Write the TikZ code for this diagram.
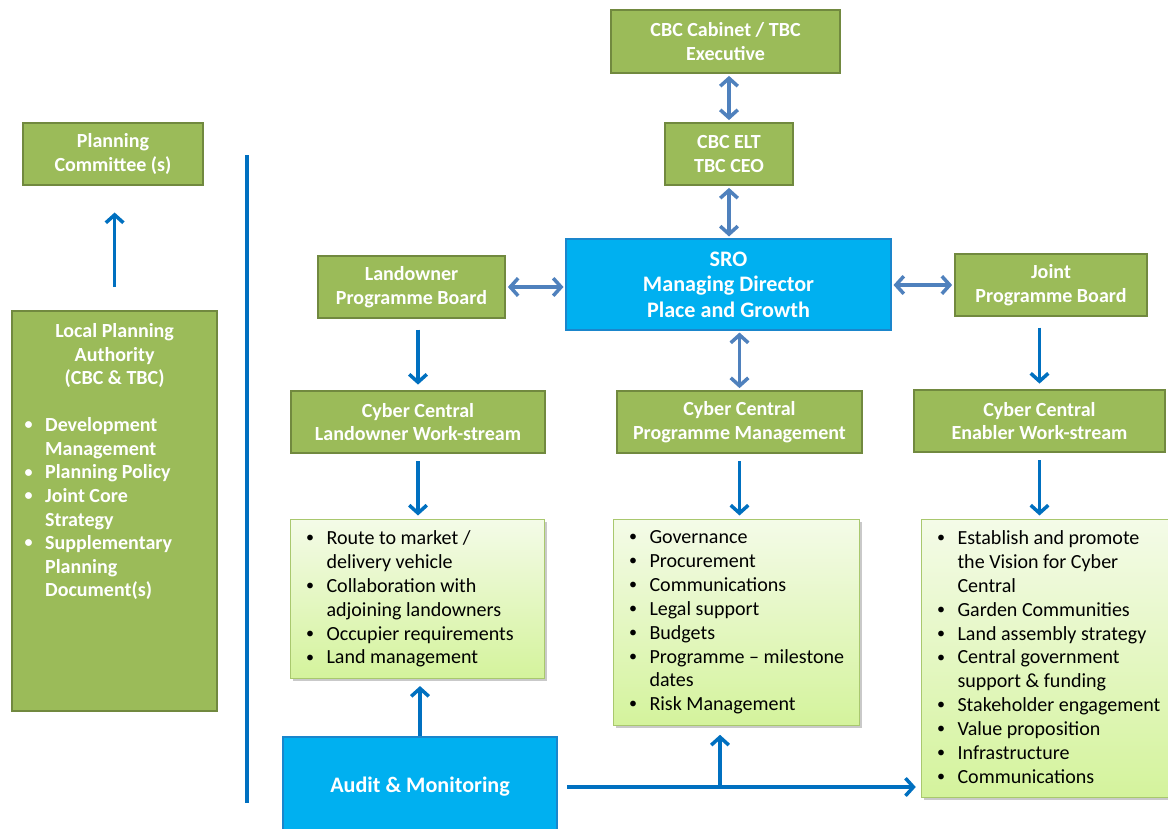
\documentclass[tikz,border=0pt]{standalone}
\usepackage{fontspec}
\setmainfont{Carlito}
\usetikzlibrary{arrows.meta,shadows}

\definecolor{boxgreen}{HTML}{9BBB59}
\definecolor{boxgreenline}{HTML}{71893F}
\definecolor{srocyan}{HTML}{00B0F0}
\definecolor{sroline}{HTML}{1A86CC}
\definecolor{feedblue}{HTML}{0070C0}
\definecolor{linkblue}{HTML}{4F81BD}
\definecolor{listtop}{HTML}{F4FBE8}
\definecolor{listbottom}{HTML}{D4F39C}
\definecolor{listline}{HTML}{A9C86E}

\newcommand{\listdot}{\makebox[0.44cm][l]{\hspace{0.03cm}\raisebox{0.2ex}{\scalebox{0.8}{\textbullet}}}}
\newcommand{\listgap}{\hspace*{0.44cm}}

\tikzset{
  greenbox/.style={draw=boxgreenline, fill=boxgreen, line width=1.3pt, text=white,
    font=\bfseries\fontsize{11.4}{13.4}\selectfont, align=center, inner sep=2pt},
  bluebox/.style={draw=sroline, fill=srocyan, line width=0.9pt, text=white,
    font=\bfseries\fontsize{12.6}{14.6}\selectfont, align=center},
  listbox/.style={draw=listline, line width=0.6pt, top color=listtop, bottom color=listbottom,
    drop shadow={shadow xshift=1.6pt, shadow yshift=-1.6pt, opacity=0.35, fill=black!60},
    font=\fontsize{11.4}{13.6}\selectfont, anchor=north west, inner xsep=0.28cm, inner ysep=0.22cm},
  link/.style={{Straight Barb[length=4.5pt,width=10pt]}-{Straight Barb[length=4.5pt,width=10pt]},
    draw=linkblue, line width=2pt, shorten <=1pt, shorten >=1pt},
  feed/.style={-{Straight Barb[length=4.5pt,width=10pt]}, draw=feedblue, line width=2pt},
}

\begin{document}
\begin{tikzpicture}[x=0.02cm, y=-0.02cm]
\fill[white] (0,0) rectangle (1168,828);
\useasboundingbox (0,0) rectangle (1168,828);

% top of the governance chain
\node[greenbox, minimum width=4.58cm, minimum height=1.26cm] (cabinet) at (725.5,41.5) {CBC Cabinet / TBC\\Executive};
\node[greenbox, minimum width=2.56cm, minimum height=1.24cm] (elt) at (729,154) {CBC ELT\\TBC CEO};
\node[bluebox, minimum width=6.5cm, minimum height=1.82cm] (sro) at (728.5,284.5) {SRO\\Managing Director\\Place and Growth};
\node[greenbox, minimum width=3.74cm, minimum height=1.24cm] (lob) at (411.5,287) {Landowner\\Programme Board};
\node[greenbox, minimum width=3.84cm, minimum height=1.24cm] (jpb) at (1051,285) {Joint\\Programme Board};

% work-streams
\node[greenbox, minimum width=5.08cm, minimum height=1.24cm] (cclw) at (418,422) {Cyber Central\\Landowner Work-stream};
\node[greenbox, minimum width=4.9cm, minimum height=1.24cm] (ccpm) at (739.5,422) {Cyber Central\\Programme Management};
\node[greenbox, minimum width=5.02cm, minimum height=1.24cm] (ccen) at (1039.5,421) {Cyber Central\\Enabler Work-stream};

\node[listbox] (lowlist) at (290,519) {\parbox[t][2.74cm][t]{4.52cm}{\raggedright
\listdot Route to market /\\\listgap delivery vehicle\\
\listdot Collaboration with\\\listgap adjoining landowners\\
\listdot Occupier requirements\\
\listdot Land management}};
\node[listbox] (pmlist) at (613,519) {\parbox[t][3.68cm][t]{4.36cm}{\raggedright
\listdot Governance\\
\listdot Procurement\\
\listdot Communications\\
\listdot Legal support\\
\listdot Budgets\\
\listdot Programme -- milestone\\\listgap dates\\
\listdot Risk Management}};
\node[listbox] (enlist) at (921,519) {\parbox[t][5.12cm][t]{4.6cm}{\raggedright
\listdot Establish and promote\\\listgap the Vision for Cyber\\\listgap Central\\
\listdot Garden Communities\\
\listdot Land assembly strategy\\
\listdot Central government\\\listgap support \& funding\\
\listdot Stakeholder engagement\\
\listdot Value proposition\\
\listdot Infrastructure\\
\listdot Communications}};

\node[bluebox, minimum width=5.48cm, minimum height=2.0cm] (audit) at (420,787) {Audit \& Monitoring};

% planning side
\node[greenbox, minimum width=3.6cm, minimum height=1.24cm] (plancom) at (113,154) {Planning\\Committee (s)};
\node[greenbox, anchor=north west, inner xsep=0.22cm, inner ysep=0.25cm] (lpa) at (11,310) {\parbox[t][7.5cm][t]{3.66cm}{%
{\centering Local Planning\\Authority\\(CBC \& TBC)\par}
\vspace{13.4pt}\raggedright
\listdot Development\\\listgap Management\\
\listdot Planning Policy\\
\listdot Joint Core\\\listgap Strategy\\
\listdot Supplementary\\\listgap Planning\\\listgap Document(s)}};

\coordinate (sepTop) at (247,155);
\coordinate (sepEnd) at (247,803);
\draw[feedblue, line width=2pt] (sepTop) -- (sepEnd);

% connectors
\draw[link] (cabinet.south -| elt.north) -- (elt.north);
\draw[link] (elt.south) -- (elt.south |- sro.north);
\draw[link] (ccpm.north) -- (ccpm.north |- sro.south);
\draw[link] (lob.east) -- (lob.east -| sro.west);
\draw[link] (jpb.west) -- (jpb.west -| sro.east);

\draw[feed, shorten <=6pt, shorten >=3pt] (lob.south -| cclw.north) -- (cclw.north);
\draw[feed, shorten <=6pt, shorten >=3pt] (jpb.south -| ccen.north) -- (ccen.north);
\draw[feed, shorten <=4pt, shorten >=2pt] (cclw.south) -- (cclw.south |- lowlist.north);
\draw[feed, shorten <=4pt, shorten >=2pt] (ccpm.south) -- (ccpm.south |- pmlist.north);
\draw[feed, shorten <=4pt, shorten >=2pt] (ccen.south) -- (ccen.south |- enlist.north);
\draw[feed, shorten >=4pt] (audit.north) -- (audit.north |- lowlist.south);
\draw[feed, shorten <=13pt, shorten >=15pt] (lpa.north) -- (lpa.north |- plancom.south);

\draw[feed, shorten <=5.5pt, shorten >=3pt] (audit.east) -- (audit.east -| enlist.west);
\coordinate (split) at (720,787);
\draw[feed, shorten >=5pt] (split) -- (split |- pmlist.south);
\end{tikzpicture}
\end{document}
